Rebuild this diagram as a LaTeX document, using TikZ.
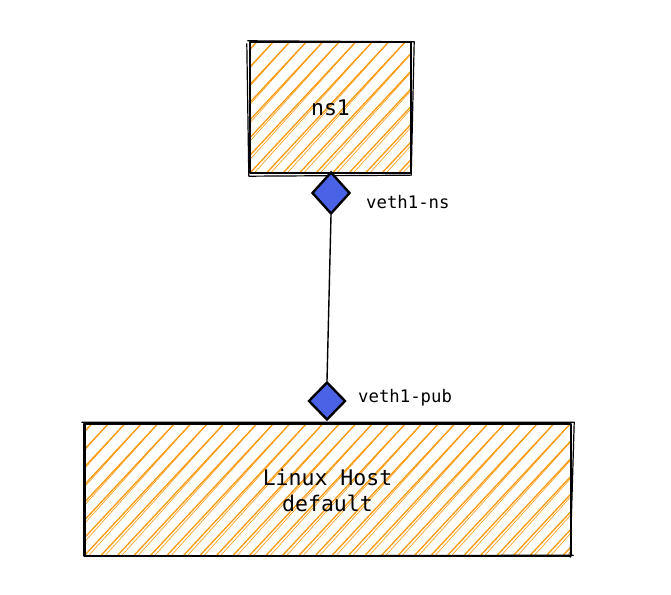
\documentclass[tikz,border=0pt]{standalone}
\usepackage{fontspec}
\setmonofont{DejaVu Sans Mono}
\usetikzlibrary{shapes.geometric,calc}
\definecolor{hach}{HTML}{F99A12}
\definecolor{portblue}{HTML}{4A63E6}
\tikzset{
  hachured/.style={path picture={
    \foreach \i in {-10,...,32}{
      \draw[hach, line width=1.3pt] ($(path picture bounding box.south west)+(\i*16.5pt,0pt)$) -- ++(47:500pt);
      \draw[hach, line width=0.6pt] ($(path picture bounding box.south west)+(\i*16.5pt+2.5pt,-2pt)$) -- ++(48:500pt);
    }}},
  box/.style={rectangle, hachured, inner sep=0pt, font=\ttfamily\fontsize{21.5}{26}\selectfont, align=center},
  sketch/.style={black, line width=2pt, line join=round, line cap=round},
  sketchthin/.style={black, line width=1.2pt, line join=round, line cap=round},
  port/.style={diamond, fill=portblue, draw=black, line width=2.4pt, inner sep=0pt},
  lbl/.style={font=\ttfamily\fontsize{17.3}{20}\selectfont, anchor=west, inner sep=0pt},
}
\begin{document}
\begin{tikzpicture}[x=1pt,y=1pt]
\useasboundingbox (0,0) rectangle (671,594);
% boxes
\node[box, minimum width=161pt, minimum height=131pt] (ns1) at (330.5,486.5) {ns1};
\node[box, minimum width=487pt, minimum height=132pt] (host) at (327.5,104) {Linux Host\\default};
% sketchy outlines ns1
\draw[sketch] (ns1.south west) rectangle (ns1.north east);
\draw[sketchthin] ($(ns1.north west)+(-2pt,1pt)$) -- ($(ns1.north east)+(3pt,0pt)$) -- ($(ns1.south east)+(0pt,-2pt)$);
\draw[sketchthin] ($(ns1.north west)+(-3pt,-2pt)$) -- ($(ns1.south west)+(-1pt,-3pt)$) -- ($(ns1.south east)+(-1pt,-2pt)$);
% sketchy outlines host
\draw[sketch] (host.south west) rectangle (host.north east);
\draw[sketchthin] ($(host.north west)+(-2pt,1.5pt)$) -- ($(host.north east)+(3pt,1.5pt)$) -- ($(host.south east)+(-1pt,-1pt)$);
\draw[sketchthin] ($(host.north west)+(1.5pt,0pt)$) -- ($(host.south west)+(1.5pt,0pt)$) -- ($(host.south east)+(2pt,1pt)$);
% ports
\node[port, minimum width=38pt, minimum height=42pt] (p1) at (331,401) {};
\node[port, minimum width=37pt, minimum height=38pt] (p2) at (327,193) {};
% connector
\draw[sketch, line width=1.4pt] (p1.south) -- (p2.north);
% labels
\node[lbl] (l1) at (366,392) {veth1-ns};
\node[lbl] (l2) at (358,196) {veth1-pub};
\end{tikzpicture}
\end{document}
